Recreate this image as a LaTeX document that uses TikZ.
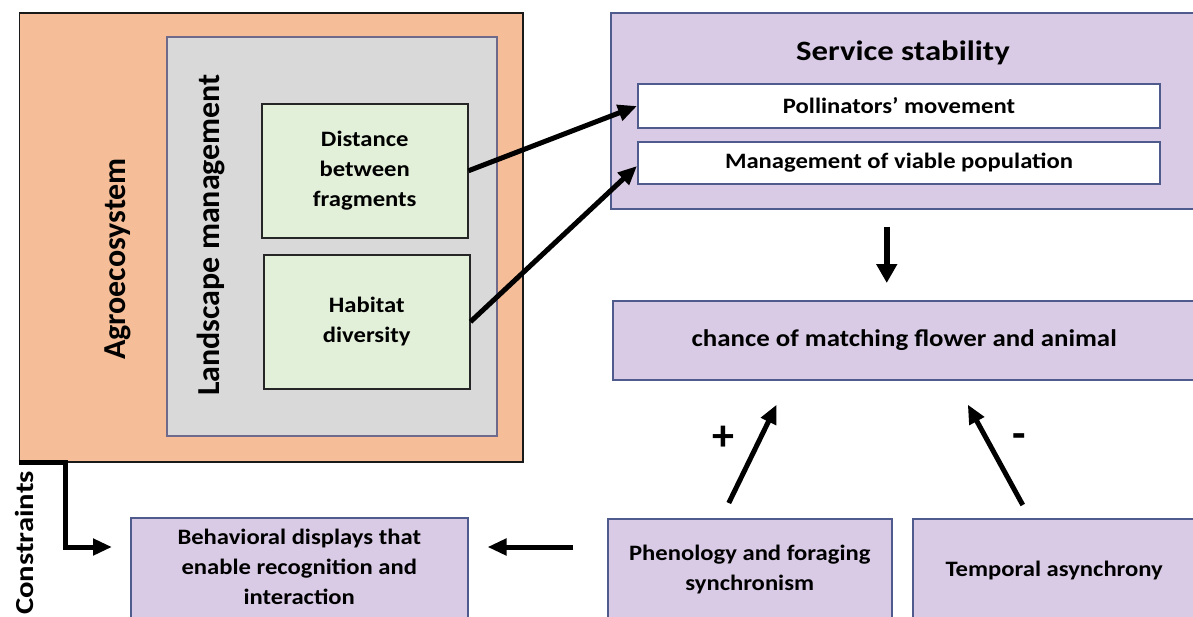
\documentclass[tikz,border=0pt]{standalone}
\usepackage{fontspec}
\setmainfont{Carlito}
\usepackage{graphicx}
\usetikzlibrary{arrows.meta}
\definecolor{agrofill}{HTML}{F5BE98}
\definecolor{landfill}{HTML}{D9D9D9}
\definecolor{landline}{HTML}{6F6A8C}
\definecolor{greenfill}{HTML}{E2EFD9}
\definecolor{purplefill}{HTML}{D9CBE5}
\definecolor{purpleline}{HTML}{4E5B8C}
\newcommand{\wx}[1]{\scalebox{1.12}[1]{#1}}
\newcommand{\wxt}[1]{\scalebox{1.17}[1]{#1}}
\newcommand{\mlines}[1]{\wx{\begin{tabular}{@{}c@{}}#1\end{tabular}}}
\begin{document}
\begin{tikzpicture}[x=1pt,y=-1pt,
  box/.style={draw, anchor=north west, inner sep=0pt, line width=1.5pt},
  agrobox/.style={box, fill=agrofill, draw=black!90},
  landbox/.style={box, fill=landfill, draw=landline},
  greenbox/.style={box, fill=greenfill, draw=black!85, font=\fontsize{22}{30}\selectfont\bfseries},
  purplebox/.style={box, fill=purplefill, draw=purpleline, font=\fontsize{22}{30}\selectfont\bfseries},
  whitebox/.style={box, fill=white, draw=purpleline, line width=2pt, font=\fontsize{22}{26}\selectfont\bfseries},
  vtext/.style={rotate=90, inner sep=0pt},
  arr/.style={line width=5pt, -{Triangle[length=19pt,width=16pt]}},
  sign/.style={inner sep=0pt, font=\fontsize{44}{46}\selectfont\bfseries},
]
\fill[white] (0,0) rectangle (1193,616);
\useasboundingbox (0,0) rectangle (1193,616);

% left group
\node[agrobox, minimum width=503.5pt, minimum height=449pt] (agro) at (18.5,12) {};
\node[landbox, minimum width=330pt, minimum height=399pt] (land) at (166,36) {};
\node[greenbox, minimum width=206pt, minimum height=134pt] (dist) at (261,103) {\mlines{Distance\\between\\fragments}};
\node[greenbox, minimum width=206pt, minimum height=134pt] (hab) at (263,254) {\mlines{Habitat\\diversity}};
\node[vtext, font=\fontsize{32}{36}\selectfont\bfseries] (agrotext) at (118,259) {Agroecosystem};
\node[vtext, font=\fontsize{32}{36}\selectfont\bfseries] (landtext) at (211,235) {Landscape management};

% service stability
\node[purplebox, minimum width=586pt, minimum height=196pt] (serv) at (610,12) {};
\node[inner sep=0pt, font=\fontsize{28}{30}\selectfont\bfseries] (servtitle) at (903,53) {\wxt{Service stability}};
\node[whitebox, minimum width=522pt, minimum height=44pt] (poll) at (637,83) {\wx{Pollinators’ movement}};
\node[whitebox, minimum width=522pt, minimum height=42pt] (mgmt) at (637,141) {\wx{Management of viable population}};

% chance
\node[purplebox, minimum width=583pt, minimum height=79pt, font=\fontsize{24}{28}\selectfont\bfseries] (chance) at (612,300) {\wx{chance of matching flower and animal}};

% bottom row
\node[purplebox, minimum width=337pt, minimum height=102pt] (behav) at (130,517) {\mlines{Behavioral displays that\\enable recognition and\\interaction}};
\node[purplebox, minimum width=284pt, minimum height=102pt] (phen) at (607,518) {\mlines{Phenology and foraging\\synchronism}};
\node[purplebox, minimum width=283pt, minimum height=104pt] (temp) at (912,518) {\wx{Temporal asynchrony}};

% constraints
\node[vtext, font=\fontsize{26}{30}\selectfont\bfseries] (constr) at (24,543) {\scalebox{1.18}[1]{Constraints}};
\coordinate (cbend) at (65,547);
\draw[arr] (agro.south west) -| (cbend) -- ([xshift=-18pt]behav.west |- cbend);

% arrows
\draw[arr] (dist.east) -- (poll.west);
\draw[arr] (hab.east) -- ([yshift=-3pt]mgmt.west);
\draw[arr, line width=6.5pt, -{Triangle[length=19pt,width=20pt]}] ([xshift=-17pt,yshift=-17pt]serv.south) -- ([xshift=-17.5pt,yshift=17pt]chance.north);
\draw[arr] ([xshift=-34pt]phen.west |- cbend) -- ([xshift=19pt]behav.east |- cbend);
\draw[arr] ([xshift=-21pt,yshift=15pt]phen.north) -- ([xshift=-127.5pt,yshift=-24pt]chance.south);
\draw[arr] ([xshift=-31.5pt,yshift=13pt]temp.north) -- ([xshift=63.5pt,yshift=-24pt]chance.south);
\node[sign] (plus) at (723,438) {+};
\node[sign] (minus) at (1019,441) {-};
\end{tikzpicture}
\end{document}
